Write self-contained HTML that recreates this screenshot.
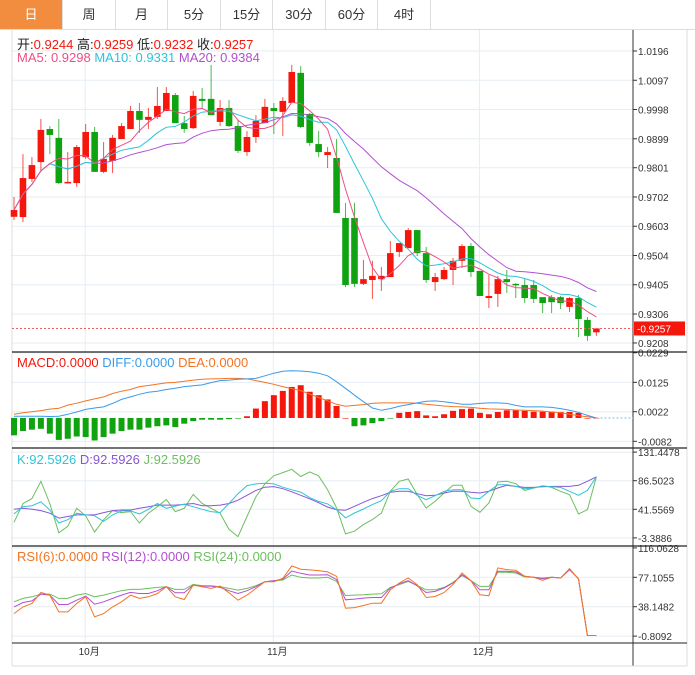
<!DOCTYPE html>
<html><head><meta charset="utf-8">
<style>
body{margin:0;background:#fff;width:695px;height:675px;overflow:hidden;font-family:"Liberation Sans","Noto Sans CJK SC",sans-serif;}
#tabs{position:absolute;left:0;top:0;height:29px;width:695px;border-bottom:1px solid #ddd;}
.tab{position:absolute;top:0;height:29px;line-height:29px;text-align:center;font-size:13px;color:#333;border-right:1px solid #ddd;box-sizing:border-box;}
.tab.active{background:#f28c3e;color:#fff;}
svg{position:absolute;left:0;top:0;}
</style></head><body>
<div id="tabs">
<div class="tab active" style="left:0;width:63px">日</div>
<div class="tab" style="left:63px;width:53px">周</div>
<div class="tab" style="left:116px;width:52px">月</div>
<div class="tab" style="left:168px;width:53px">5分</div>
<div class="tab" style="left:221px;width:52px">15分</div>
<div class="tab" style="left:273px;width:53px">30分</div>
<div class="tab" style="left:326px;width:52px">60分</div>
<div class="tab" style="left:378px;width:53px">4时</div>
</div>
<svg id="chart" width="695" height="675"></svg>
<script>
const opens=[.9635,.9634,.9763,.9820,.9932,.9902,.9749,.9749,.9837,.9922,.9787,.9824,.9898,.9932,.9993,.9963,.9973,.9993,1.0047,.9952,.9935,1.0034,1.0034,.9956,1.0003,.9942,.9854,.9905,.9952,1.0003,.9990,1.0020,1.0122,.9983,.9881,.9844,.9834,.9631,.9631,.9408,.9421,.9424,.9431,.9516,.9529,.9590,.9512,.9414,.9424,.9455,.9486,.9536,.9452,.9360,.9374,.9424,.9408,.9404,.9404,.9363,.9363,.9363,.9330,.9360,.9286,.9244];
const highs=[.9702,.9847,.9837,.9966,.9942,.9966,.9854,.9878,.9949,.9939,.9888,.9912,.9952,1.0010,1.0020,1.0003,1.0074,1.0074,1.0054,.9976,1.0061,1.0071,1.0149,1.0030,1.0030,.9963,.9925,.9979,1.0034,1.0020,1.0040,1.0149,1.0145,.9986,.9925,.9871,.9898,.9682,.9682,.9489,.9486,.9465,.9553,.9546,.9597,.9590,.9533,.9445,.9465,.9496,.9543,.9546,.9452,.9438,.9435,.9455,.9411,.9424,.9421,.9363,.9370,.9367,.9363,.9370,.9296,.9259];
const lows=[.9624,.9617,.9753,.9787,.9847,.9746,.9748,.9736,.9831,.9787,.9783,.9783,.9898,.9932,.9919,.9932,.9966,.9993,.9952,.9919,.9932,1.0000,.9979,.9942,.9939,.9851,.9841,.9885,.9952,.9915,.9908,1.0020,.9935,.9875,.9837,.9800,.9648,.9397,.9397,.9404,.9357,.9384,.9431,.9499,.9529,.9502,.9411,.9384,.9421,.9404,.9462,.9431,.9367,.9326,.9330,.9377,.9360,.9343,.9343,.9309,.9309,.9323,.9313,.9228,.9215,.9232];
const closes=[.9658,.9766,.9810,.9929,.9912,.9749,.9753,.9871,.9922,.9787,.9831,.9902,.9942,.9993,.9963,.9973,1.0010,1.0054,.9952,.9932,1.0044,1.0027,.9979,1.0003,.9942,.9858,.9905,.9959,1.0007,.9993,1.0027,1.0125,.9939,.9885,.9854,.9854,.9648,.9404,.9408,.9424,.9435,.9435,.9512,.9546,.9590,.9512,.9421,.9431,.9455,.9486,.9536,.9448,.9367,.9367,.9424,.9414,.9404,.9360,.9357,.9343,.9346,.9343,.9360,.9289,.9232,.9257];
const priceTicks=["1.0196","1.0097","0.9998","0.9899","0.9801","0.9702","0.9603","0.9504","0.9405","0.9306","0.9208"];
const macdHist=[-61,-46,-41,-38,-55,-77,-73,-65,-67,-79,-67,-55,-46,-41,-41,-34,-29,-26,-32,-20,-11,-6,-6,-6,-4,-2,6,33,59,80,95,109,115,92,80,65,42,0,-29,-26,-18,-11,-1,18,21,24,9,6,13,25,31,33,18,13,21,27,27,25,22,22,22,21,21,18,0,0];
const diffVals=[6,6,6,6,5,6,13,21,30,35,39,51,65,74,83,90,94,100,104,110,113,116,124,131,133,136,137,139,148,157,164,166,165,162,157,148,127,104,80,57,35,27,33,41,47,53,59,60,57,53,48,48,51,53,53,51,44,39,39,39,37,33,27,20,9,0];
const deaVals=[13,18,22,26,31,34,45,52,60,67,74,86,94,100,110,114,119,123,125,129,133,136,137,138,139,139,137,131,125,118,110,103,96,84,72,60,48,41,44,47,51,53,53,53,53,52,48,45,42,40,39,37,34,32,31,30,28,27,26,24,21,18,13,8,4,0];
const macdTicks=["0.0229","0.0125","0.0022","-0.0082"];
const kVals=[34.4,45.6,47.2,53.3,40.5,20.1,25.2,35.4,32.8,31.3,22.6,32.8,39.0,39.0,34.4,41.5,50.7,43.1,46.6,49.7,45.6,41.5,38.0,36.4,50.7,66.1,78.8,81.4,82.4,81.4,76.3,72.2,68.6,59.9,54.0,50.0,41.0,28.0,35.8,42.1,48.9,55.1,69.8,74.0,74.0,63.5,56.7,63.0,69.8,72.4,72.4,59.3,58.3,69.8,80.2,80.2,77.6,74.0,75.0,78.1,77.1,76.0,69.8,63.5,71.3,92.6];
const dVals=[41.5,43.1,41.5,39.5,35.4,27.7,30.3,32.8,32.8,32.8,36.4,39.5,40.5,40.5,43.1,45.6,48.2,48.2,48.2,49.2,50.7,47.2,47.2,48.2,50.7,55.8,63.5,71.2,76.3,77.3,74.0,69.0,63.5,58.0,52.0,45.0,41.0,40.0,46.3,52.5,58.3,63.0,68.2,69.8,69.8,66.1,63.0,63.5,67.2,69.8,69.8,68.2,67.2,69.8,75.0,79.2,77.6,76.0,76.0,77.1,77.6,77.6,77.6,79.2,85.5,92.6];
const jVals=[21.1,50.7,58.4,85.5,50.7,4.7,14.9,43.1,31.3,5.8,25.2,39.5,36.4,38.0,20.1,35.4,45.6,56.9,38.0,43.1,65.0,50.7,43.1,35.4,9.9,-1.4,30.3,61.0,81.4,94.2,99.3,104.4,93.1,100.3,94.2,72.4,43.6,2.9,7.1,17.5,25.4,35.8,69.8,85.5,89.1,64.6,43.6,54.1,67.2,79.2,79.2,46.3,36.9,51.5,84.4,85.5,81.8,71.3,75.0,78.7,76.0,69.8,64.6,34.2,41.0,92.6];
const kdjTicks=["131.4478","86.5023","41.5569","-3.3886"];
const rsi6=[29.0,37.9,42.4,57.1,53.5,31.3,31.3,42.4,51.3,24.6,29.0,37.9,44.6,53.5,49.1,51.3,55.7,64.6,51.3,47.7,66.8,64.6,62.4,65.5,56.6,46.8,53.5,62.4,71.3,71.3,75.7,92.2,87.8,86.9,86.0,84.2,78.4,36.1,37.0,39.7,42.8,42.8,60.6,69.5,76.2,67.3,50.4,51.7,57.0,67.3,82.8,72.6,53.9,52.6,89.5,87.3,86.4,78.4,77.1,73.1,77.1,76.2,88.6,74.8,0,0];
const rsi12=[37.9,43.7,45.9,54.8,53.5,41.1,41.1,46.8,52.2,41.5,44.6,49.1,53.5,57.1,55.7,55.7,59.3,64.6,56.6,56.6,66.8,65.5,65.5,63.7,59.3,55.7,59.3,64.6,71.3,72.6,74.4,85.5,82.4,80.2,80.2,80.6,74.0,47.3,48.2,49.5,50.4,50.4,62.9,68.6,72.6,65.9,57.0,58.4,62.9,69.5,80.6,72.6,60.6,60.6,85.1,85.1,84.2,78.4,77.1,75.3,77.1,76.2,87.3,75.3,0,0];
const rsi24=[44.6,49.1,51.3,54.8,54.8,49.1,49.1,53.5,55.7,51.3,53.5,56.6,59.3,61.1,61.1,62.4,63.7,64.6,61.1,61.1,67.7,66.0,66.0,64.6,62.4,60.2,62.4,66.0,71.3,72.6,73.5,80.2,77.1,76.2,76.2,77.1,71.7,53.0,53.5,53.9,54.8,55.3,63.7,67.3,71.7,66.4,60.6,60.6,63.7,70.4,79.3,72.6,65.0,65.0,83.7,83.7,82.8,77.5,77.1,76.2,77.1,76.2,87.3,75.3,0,0];
const rsiTicks=["116.0628","77.1055","38.1482","-0.8092"];
const monthLabels=["10月","11月","12月"];
const monthIdx=[8,29,52];

const NS="http://www.w3.org/2000/svg";
const svg=document.getElementById('chart');
function el(tag,attrs,parent){const e=document.createElementNS(NS,tag);for(const k in attrs)e.setAttribute(k,attrs[k]);(parent||svg).appendChild(e);return e;}
const X0=14,DX=8.96,AX=633;
const xAt=i=>X0+i*DX;
const yP=p=>51+(1.0196-p)*2955;
const yM=v=>411.7-(v/10000-0.0022)*2849;
const yK=v=>480.7-(v-86.5023)*0.6363;
const yR=v=>577.3-(v-77.1055)*0.7547;
const FONT='"Liberation Sans","Noto Sans CJK SC",sans-serif';

function ticks(list,scale,parse){list.forEach(t=>{const y=scale(parse(t));
 const g=el('line',{x1:12,x2:AX,y1:y,y2:y,stroke:'#e6edf3','stroke-width':1});
 
 
 el('line',{x1:AX,x2:AX+4,y1:y,y2:y,stroke:'#333'});
 const tx=el('text',{x:AX+5,y:y+4,'font-size':10,fill:'#333','font-family':FONT});tx.textContent=t;
 
 
});}
ticks(priceTicks,yP,parseFloat);
ticks(macdTicks,yM,t=>parseFloat(t)*10000);
ticks(kdjTicks,yK,parseFloat);
ticks(rsiTicks,yR,parseFloat);
monthIdx.forEach((idx,k)=>{const x=xAt(idx)-0.5;
 el('line',{x1:x,x2:x,y1:30,y2:643,stroke:'#e6edf3'});
 const t=el('text',{x:x+4,y:655,'font-size':10,fill:'#333','text-anchor':'middle','font-family':FONT});t.textContent=monthLabels[k];
 
 
});
el('line',{x1:12,x2:12,y1:30,y2:666,stroke:'#ddd'});
el('line',{x1:AX,x2:AX,y1:30,y2:666,stroke:'#333'});
el('line',{x1:687,x2:687,y1:30,y2:666,stroke:'#ddd'});
el('line',{x1:12,x2:687,y1:666,y2:666,stroke:'#ddd'});
[352,448,546].forEach(y=>el('line',{x1:12,x2:687,y1:y,y2:y,stroke:'#222','stroke-width':1.2}));
el('line',{x1:12,x2:687,y1:643,y2:643,stroke:'#222','stroke-width':1});

const RED='#f5170c',GRN='#0fa30f';
closes.forEach((c,i)=>{const o=opens[i],x=xAt(i);const col=c>=o?RED:GRN;
 const g=el('g',{});
 
 
 el('line',{x1:x,x2:x,y1:yP(highs[i]),y2:yP(lows[i]),stroke:col,'stroke-width':1,opacity:0.75},g);
 const t=Math.min(yP(o),yP(c)),h=Math.max(1.5,Math.abs(yP(o)-yP(c)));
 el('rect',{x:x-3.3,y:t,width:6.6,height:h,fill:col},g);
});
function ma(n){return closes.map((_,i)=>{const s=Math.max(0,i-n+1);let sum=0;for(let j=s;j<=i;j++)sum+=closes[j];return sum/(i-s+1);});}
function line(vals,scale,color,name){const pts=vals.map((v,i)=>xAt(i).toFixed(1)+','+scale(v).toFixed(1)).join(' ');
 const p=el('polyline',{points:pts,fill:'none',stroke:color,'stroke-width':1});
 
 }
line(ma(20),yP,'#b44fd0','ma20-line');
line(ma(10),yP,'#2ec4d8','ma10-line');
line(ma(5),yP,'#ee4f85','ma5-line');
const cy=yP(closes[closes.length-1]);
el('line',{x1:12,x2:AX,y1:cy,y2:cy,stroke:'#f06060','stroke-dasharray':'2,2'});
const pb=el('rect',{x:AX+1,y:cy-7,width:51,height:14,fill:'#f5170c'});


const pt=el('text',{x:AX+4,y:cy+4,'font-size':10,fill:'#fff','font-family':FONT});pt.textContent='-'+closes[closes.length-1].toFixed(4);

macdHist.forEach((v,i)=>{const x=xAt(i),y0=yM(0),y1=yM(v);
 const r=el('rect',{x:x-3,y:Math.min(y0,y1),width:6,height:Math.max(0.6,Math.abs(y1-y0)),fill:v>=0?RED:GRN});
 
 
});
el('line',{x1:xAt(65),x2:AX,y1:yM(0),y2:yM(0),stroke:'#7cc0ee','stroke-dasharray':'2,2'});
line(deaVals,yM,'#f27424','dea-line');
line(diffVals,yM,'#3a9be8','diff-line');
line(jVals,yK,'#6cbf5e','kdj-j-line');
line(dVals,yK,'#8a55d6','kdj-d-line');
line(kVals,yK,'#2ec4d8','kdj-k-line');
line(rsi24,yR,'#6cbf5e','rsi24-line');
line(rsi12,yR,'#b44fd0','rsi12-line');
line(rsi6,yR,'#f27424','rsi6-line');

function legend(y,items,name){const t=el('text',{x:17,y:y,'font-size':13,'font-family':FONT});
 
 
 items.forEach(([s,c],k)=>{const ts=el('tspan',{fill:c},t);ts.textContent=s;});}
legend(49,[['开:','#222'],['0.9244  ','#f5170c'],['高:','#222'],['0.9259  ','#f5170c'],['低:','#222'],['0.9232  ','#f5170c'],['收:','#222'],['0.9257','#f5170c']],'ohlc-legend');
legend(62,[['MA5: 0.9298  ','#ee4f85'],['MA10: 0.9331  ','#2ec4d8'],['MA20: 0.9384','#b44fd0']],'ma-legend');
legend(367,[['MACD:0.0000  ','#f5170c'],['DIFF:0.0000  ','#3a9be8'],['DEA:0.0000','#f27424']],'macd-legend');
legend(464,[['K:92.5926  ','#2ec4d8'],['D:92.5926  ','#8a55d6'],['J:92.5926','#6cbf5e']],'kdj-legend');
legend(561,[['RSI(6):0.0000  ','#f27424'],['RSI(12):0.0000  ','#b44fd0'],['RSI(24):0.0000','#6cbf5e']],'rsi-legend');
document.querySelectorAll('tspan').forEach(t=>t.setAttribute('xml:space','preserve'));
</script>
</body></html>
